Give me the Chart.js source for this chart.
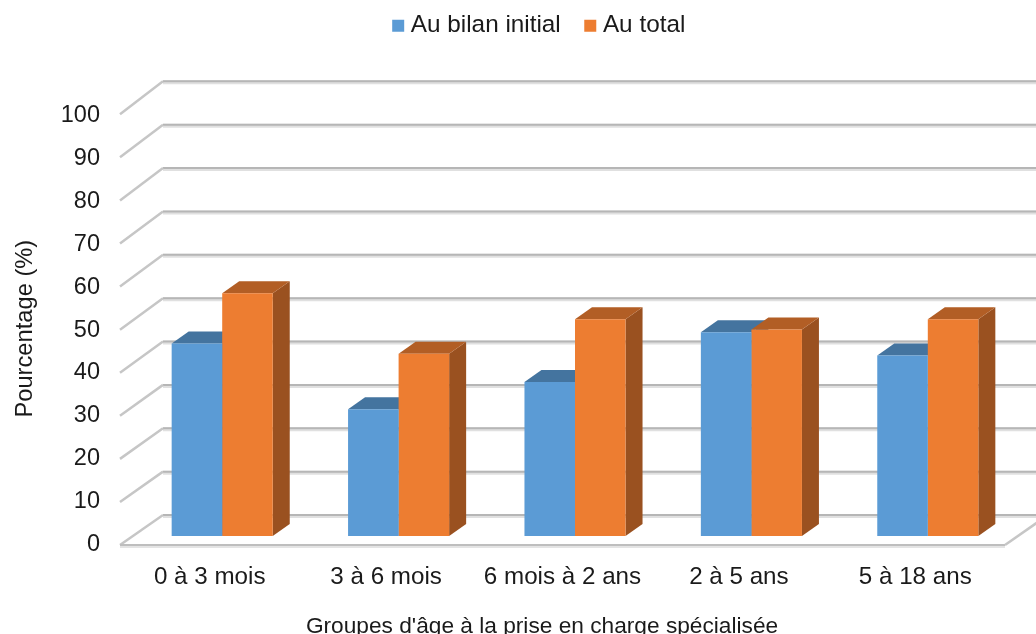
<!DOCTYPE html>
<html lang="fr">
<head>
<meta charset="utf-8">
<title>Pourcentage par groupe d'âge</title>
<script src="https://cdn.jsdelivr.net/npm/chart.js@4"></script>
<style>
html,body{margin:0;padding:0;background:#fff;overflow:hidden}
canvas{display:block}
</style>
</head>
<body>
<canvas id="c" width="1036" height="634"></canvas>
<script>
const categories = ["0 à 3 mois", "3 à 6 mois", "6 mois à 2 ans", "2 à 5 ans", "5 à 18 ans"];
const auBilanInitial = [44.4, 29.2, 35.5, 47, 41.6];
const auTotal = [56, 42, 50, 47.6, 50];
const seriesNames = ["Au bilan initial", "Au total"];
const xTitle = "Groupes d'âge à la prise en charge spécialisée";
const yTitle = "Pourcentage (%)";

const BLUE = "#5B9BD5", ORANGE = "#ED7D31";
const SHADES = {[BLUE]: {top: "#44749F", side: "#3A6690"}, [ORANGE]: {top: "#B25E25", side: "#9A5120"}};
const FAMILY = "'Liberation Sans', Helvetica, Arial, sans-serif";
const TEXT = "#1a1a1a";

function poly(ctx, pts, fill) {
  ctx.beginPath();
  pts.forEach((p, i) => i ? ctx.lineTo(p[0], p[1]) : ctx.moveTo(p[0], p[1]));
  ctx.closePath();
  ctx.fillStyle = fill;
  ctx.fill();
}
function stroke(ctx, pts, w, color) {
  ctx.beginPath();
  pts.forEach((p, i) => i ? ctx.lineTo(p[0], p[1]) : ctx.moveTo(p[0], p[1]));
  ctx.lineWidth = w;
  ctx.strokeStyle = color;
  ctx.stroke();
}
function shiftTitle(scale, dx, dy) {
  if (scale._titleShifted) return;
  scale._titleShifted = true;
  const orig = scale.drawTitle;
  scale.drawTitle = function () {
    const ctx = this.ctx;
    ctx.save();
    ctx.translate(dx, dy);
    orig.call(this);
    ctx.restore();
  };
}

const walls3d = {
  id: "walls3d",
  afterLayout(chart) {
    const lg = chart.legend;
    const h = lg.bottom - lg.top;
    lg.left = 67; lg.right = 1016;
    lg.top = -15.5; lg.bottom = lg.top + h;
  },
  beforeDatasetsDraw(chart) {
    const {ctx, scales: {x, y}} = chart;
    const y0 = y.getPixelForValue(0);
    ctx.save();
    ctx.lineCap = "butt";
    const DX = 43, BACK = 21, FRONT = 9;
    const leftFront = x.left - 14, leftBack = leftFront + DX;
    const rightFront = x.right - 11;
    // back wall and left wall gridlines
    y.ticks.forEach(t => {
      const py = y.getPixelForValue(t.value);
      const back = py - BACK;
      const front = y0 + FRONT + (py - y0) * 432 / 435;
      stroke(ctx, [[leftBack, back + 1], [chart.width, back + 1]], 4, "#E0E0E0");
      stroke(ctx, [[leftBack, back], [chart.width, back]], 2, "#B6B6B6");
      stroke(ctx, [[leftFront, front], [leftBack, back]], 2.5, "#C6C6C6");
    });
    // floor
    const fy = y0 + FRONT, by = y0 - BACK;
    stroke(ctx, [[leftFront, fy + 1], [rightFront, fy + 1]], 4, "#E4E4E4");
    stroke(ctx, [[leftFront, fy], [rightFront, fy]], 2, "#BEBEBE");
    stroke(ctx, [[rightFront, fy], [rightFront + DX, by]], 2.5, "#C6C6C6");
    // bar sides and tops
    const dX = 17, dY = 12;
    chart.data.datasets.forEach((ds, i) => {
      const shade = SHADES[ds.backgroundColor];
      chart.getDatasetMeta(i).data.forEach(b => {
        const l = b.x - b.width / 2, r = b.x + b.width / 2;
        poly(ctx, [[r, b.y], [r + dX, b.y - dY], [r + dX, b.base - dY], [r, b.base]], shade.side);
        poly(ctx, [[l, b.y], [r, b.y], [r + dX, b.y - dY], [l + dX, b.y - dY]], shade.top);
      });
    });
    ctx.restore();
  }
};

new Chart(document.getElementById("c"), {
  type: "bar",
  data: {
    labels: categories,
    datasets: [
      {label: seriesNames[0], data: auBilanInitial, backgroundColor: BLUE, borderWidth: 0},
      {label: seriesNames[1], data: auTotal, backgroundColor: ORANGE, borderWidth: 0}
    ]
  },
  options: {
    responsive: false,
    animation: false,
    devicePixelRatio: 1,
    barPercentage: 1,
    categoryPercentage: 0.573,
    layout: {padding: {left: 0, right: 20, top: 39, bottom: 0}},
    plugins: {
      tooltip: {enabled: false},
      title: {display: false},
      legend: {
        display: true,
        position: "top",
        labels: {
          font: {family: FAMILY, size: 24.3},
          color: TEXT,
          boxWidth: 1,
          boxHeight: 1,
          padding: 29,
          generateLabels(chart) {
            return chart.data.datasets.map((ds, i) => ({
              text: ds.label,
              fillStyle: ds.backgroundColor,
              strokeStyle: ds.backgroundColor,
              lineWidth: 11,
              fontColor: TEXT,
              datasetIndex: i
            }));
          }
        }
      }
    },
    scales: {
      x: {
        grid: {display: false},
        border: {display: false},
        ticks: {font: {family: FAMILY, size: 24.2}, color: TEXT, padding: 19, labelOffset: -12.5, autoSkip: false, maxRotation: 0},
        title: {display: true, text: xTitle, font: {family: FAMILY, size: 22.7}, color: TEXT, padding: 0},
        afterFit(s) { s.height = 98; },
        afterUpdate(s) { shiftTitle(s, -33, 6); }
      },
      y: {
        min: 0,
        max: 100,
        grid: {display: false},
        border: {display: false},
        ticks: {stepSize: 10, font: {family: FAMILY, size: 23.5}, color: TEXT, padding: 26},
        title: {display: true, text: yTitle, font: {family: FAMILY, size: 23.7}, color: TEXT, padding: 0},
        afterFit(s) { s.width = 134; },
        afterUpdate(s) {
          shiftTitle(s, 11, 9.5);
          // tick labels sit on the front edge of the left wall
          s.getPixelForTick = function (i) {
            const base = this.getPixelForValue(0);
            const py = this.getPixelForValue(this.ticks[i].value);
            return base + 8.5 + (py - base) * 430 / 435;
          };
        }
      }
    }
  },
  plugins: [walls3d]
});
</script>
</body>
</html>
